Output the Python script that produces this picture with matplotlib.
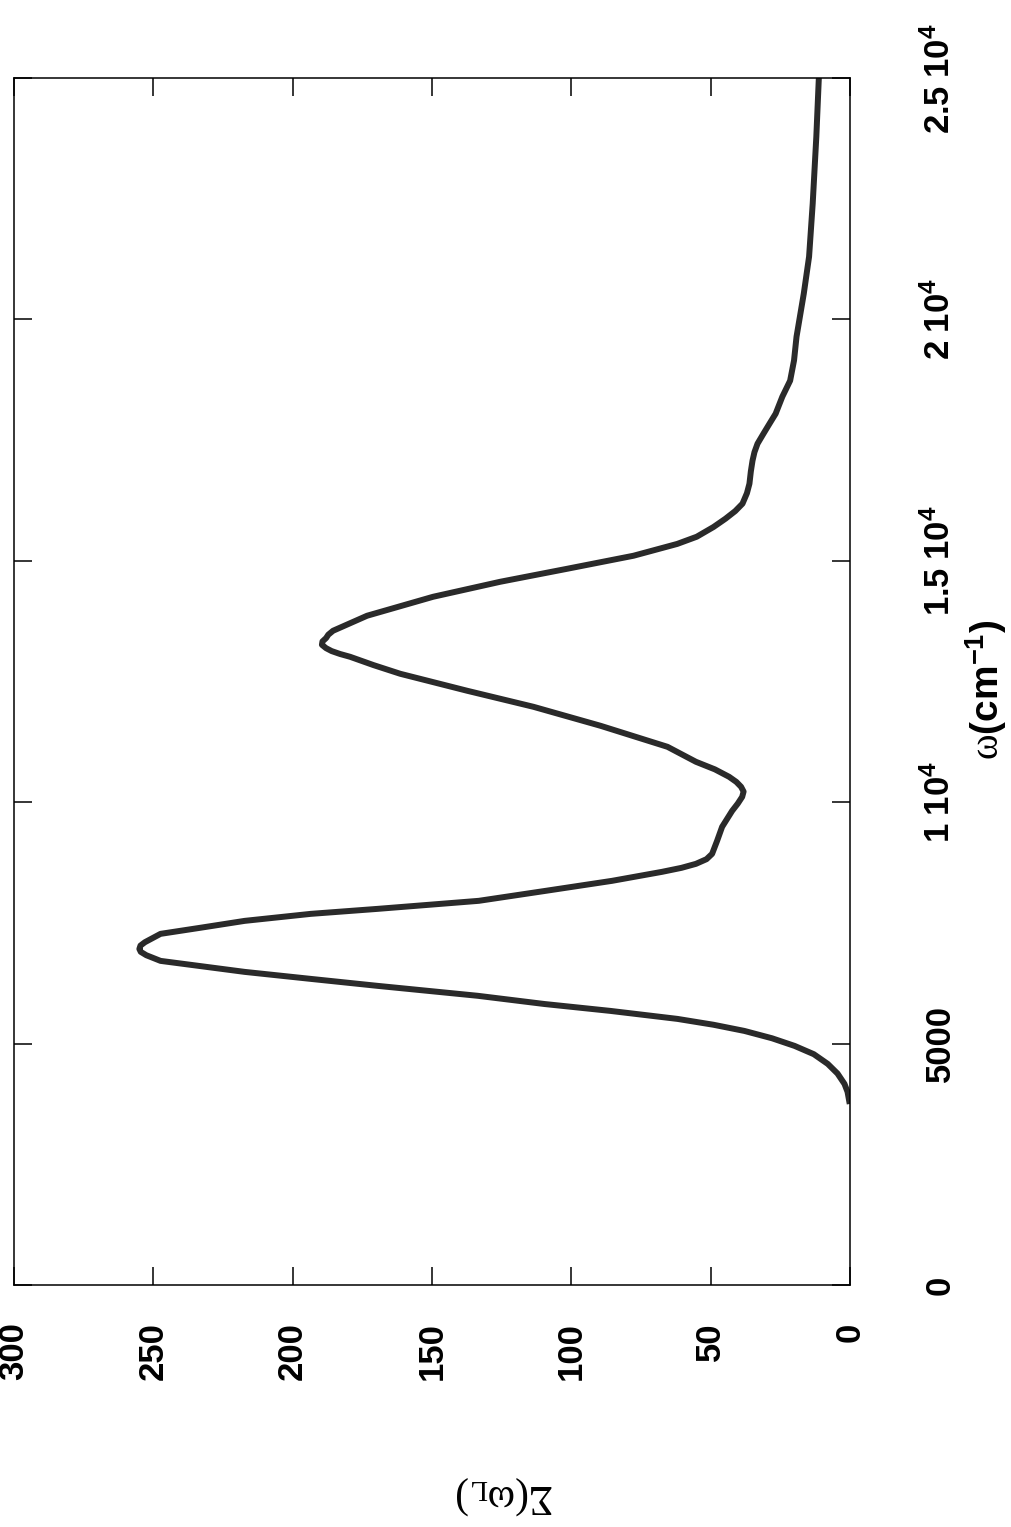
import numpy as np
import matplotlib
matplotlib.use('Agg')
import matplotlib.pyplot as plt

omega = [3810, 4000, 4165, 4380, 4579, 4780, 4952, 5110, 5262, 5390, 5511, 5677,
         5820, 5990, 6195, 6340, 6485, 6713, 6830, 6900, 6960, 7030, 7100, 7273,
         7400, 7542, 7687, 7791, 7957, 8164, 8371, 8557, 8640, 8723, 8820, 8930,
         9200, 9490, 9821, 9970, 10111, 10220, 10319, 10420, 10526, 10680, 10837,
         11147, 11582, 11976, 12307, 12660, 12840, 13012, 13070, 13130, 13190,
         13260, 13330, 13400, 13470, 13551, 13862, 14255, 14566, 14836, 15105,
         15350, 15499, 15700, 15872, 16030, 16183, 16400, 16597, 16850, 17073,
         17250, 17426, 17640, 17840, 18047, 18399, 18731, 19150, 19643, 20534,
         21300, 22400, 23786, 25000]
sigma = [0.3, 0.9, 2, 4.5, 8, 13, 19.9, 28, 37.9, 49, 61.9, 86,
         109.7, 133.6, 169.4, 193.5, 217.2, 247.4, 252.5, 254.5, 255, 254.6, 253, 247.4,
         233, 217.2, 193.5, 169.4, 133.2, 109.2, 85.4, 67.5, 60.5, 55.3, 51.5, 49.5,
         47.7, 45.9, 42.3, 40.3, 38.7, 38.2, 39.1, 40.8, 43.4, 48.5, 55.3,
         65.5, 89.5, 113.6, 137.3, 161.4, 171, 179.4, 183, 186, 188,
         189.5, 189.3, 188, 187.2, 185.5, 173.3, 149.6, 125.5, 101.4, 77.7,
         62, 55, 49, 44.7, 41.2, 38.6, 37, 36.1, 35.6, 35.0,
         34.3, 33.2, 31, 28.9, 26.7, 24.3, 21.5, 20.1, 19.2, 16.6,
         14.7, 13.4, 12.1, 11.2]

sigma_ticks = [0, 50, 100, 150, 200, 250, 300]
sigma_ticklabels = ['0', '50', '100', '150', '200', '250', '300']
omega_ticks = [0, 5000, 10000, 15000, 20000, 25000]
omega_ticklabels = ['0', '5000', r'$\mathbf{1\ 10^4}$', r'$\mathbf{1.5\ 10^4}$',
                    r'$\mathbf{2\ 10^4}$', r'$\mathbf{2.5\ 10^4}$']

plt.rcParams['font.family'] = 'Liberation Sans'
plt.rcParams['mathtext.fontset'] = 'custom'
plt.rcParams['mathtext.rm'] = 'Liberation Serif'
plt.rcParams['mathtext.it'] = 'Liberation Serif:italic'
plt.rcParams['mathtext.bf'] = 'Liberation Sans:bold'

# the page is scanned turned 90 deg, so sigma runs along x (reversed) and omega up y
fig = plt.figure(figsize=(10.11, 15.27), dpi=100)
ax = fig.add_axes([0.0138, 0.1585, 0.827, 0.7904])
ax.plot(sigma, omega, color='#2a2a2a', lw=4.3, solid_joinstyle='round')
ax.set_xlim(300, 0)
ax.set_ylim(0, 25000)

ax.set_xticks(sigma_ticks)
ax.set_xticklabels(sigma_ticklabels, rotation=90, fontsize=25, fontweight='bold')
ax.set_yticks(omega_ticks)
ax.set_yticklabels(omega_ticklabels, fontsize=25, fontweight='bold')
ax.tick_params(direction='in', length=13, width=1.1, top=True, bottom=True,
               left=True, right=True, labelleft=False, labelright=True)
ax.tick_params(axis='x', pad=27)
ax.tick_params(axis='y', pad=72)
plt.setp(ax.get_yticklabels(), rotation=90, rotation_mode='anchor',
         ha='center', va='baseline')
for s in ax.spines.values():
    s.set_linewidth(1.1)

ax.set_xlabel(r'$\mathrm{\Sigma(\omega_L)}$', fontsize=30, rotation=180)
ax.xaxis.set_label_coords(0.587, -0.174)
ax.xaxis.label.set_va('center')
ax.yaxis.set_label_position('right')
ax.set_ylabel(r'$\mathrm{\omega}\mathbf{(cm^{-1})}$', fontsize=28, rotation=90)
ax.yaxis.set_label_coords(1.163, 0.493)
ax.yaxis.label.set_va('center')
ax.yaxis.label.set_ha('center')

fig.savefig('out.png', dpi=100)
